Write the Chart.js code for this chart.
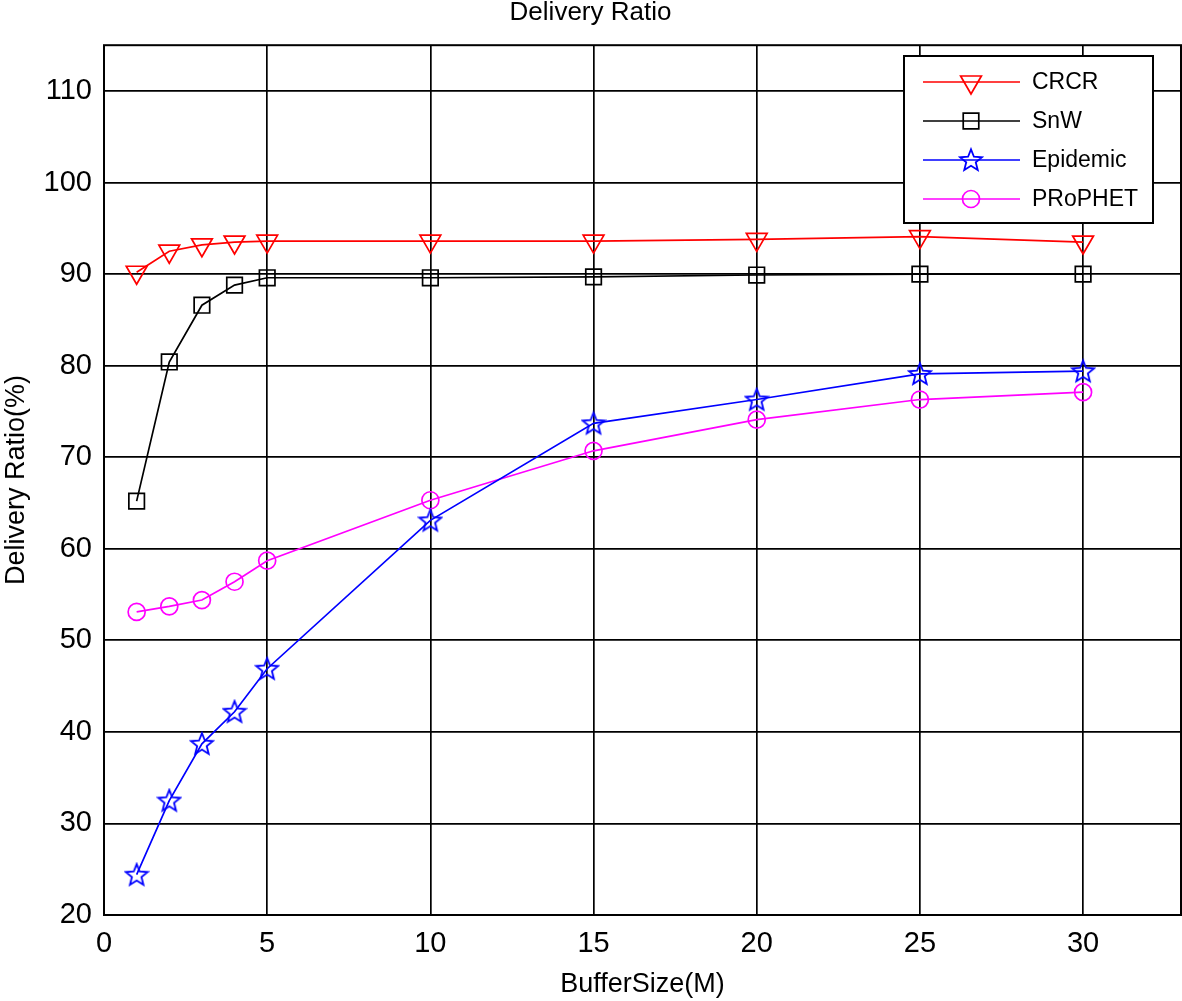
<!DOCTYPE html>
<html>
<head>
<meta charset="utf-8">
<script src="https://cdn.jsdelivr.net/npm/chart.js@4/dist/chart.umd.min.js"></script>
<style>
html,body{margin:0;padding:0;background:#fff;}
#wrap{width:1182px;height:1001px;}
</style>
</head>
<body>
<div id="wrap"><canvas id="c" width="1182" height="1001"></canvas></div>
<script>
const bufferSizes = [1, 2, 3, 4, 5, 10, 15, 20, 25, 30];
const crcr     = [90.2, 92.5, 93.2, 93.5, 93.6, 93.6, 93.6, 93.8, 94.1, 93.5];
const snw      = [65.2, 80.4, 86.6, 88.8, 89.6, 89.6, 89.7, 89.9, 90.0, 90.0];
const epidemic = [24.4, 32.5, 38.7, 42.2, 46.9, 63.1, 73.7, 76.3, 79.1, 79.4];
const prophet  = [53.1, 53.7, 54.4, 56.4, 58.7, 65.3, 70.7, 74.1, 76.3, 77.1];
const seriesNames = ['CRCR', 'SnW', 'Epidemic', 'PRoPHET'];
const xTickValues = [0, 5, 10, 15, 20, 25, 30];
const yTickValues = [20, 30, 40, 50, 60, 70, 80, 90, 100, 110];

function starImage(color){
  const s = 26, c = document.createElement('canvas');
  c.width = s; c.height = s;
  const g = c.getContext('2d');
  const R = 11.5, r = 5, cx = s/2, cy = s/2 + 0.8;
  g.beginPath();
  for (let i = 0; i < 10; i++) {
    const rad = (i % 2 === 0) ? R : r;
    const a = -Math.PI/2 + i * Math.PI/5;
    const px = cx + rad*Math.cos(a), py = cy + rad*Math.sin(a);
    if (i === 0) g.moveTo(px, py); else g.lineTo(px, py);
  }
  g.closePath();
  g.strokeStyle = color; g.lineWidth = 1.8; g.stroke();
  return c;
}
const star = starImage('#0000ff');

function pts(arr){ return bufferSizes.map((x,i)=>({x:x, y:arr[i]})); }

const datasets = [
  {label: seriesNames[0], data: pts(crcr), borderColor:'#ff0000', pointStyle:'triangle', rotation:180, pointRadius:12},
  {label: seriesNames[1], data: pts(snw), borderColor:'#000000', pointStyle:'rect', pointRadius:11, rotation:0},
  {label: seriesNames[2], data: pts(epidemic), borderColor:'#0000ff', pointStyle:star, pointRadius:10, rotation:0},
  {label: seriesNames[3], data: pts(prophet), borderColor:'#ff00ff', pointStyle:'circle', pointRadius:8.5, rotation:0}
].map(d => Object.assign(d, {
  backgroundColor:'rgba(0,0,0,0)', pointBackgroundColor:'rgba(0,0,0,0)',
  pointBorderColor:d.borderColor, borderWidth:1.7, pointBorderWidth:1.7,
  tension:0, fill:false, pointHoverRadius:d.pointRadius
}));

const FONT = '"Liberation Sans", Arial, sans-serif';

const frame = {
  id:'frame',
  afterDatasetsDraw(chart){
    const a = chart.chartArea, ctx = chart.ctx;
    ctx.save();
    ctx.strokeStyle = '#000'; ctx.lineWidth = 2;
    ctx.strokeRect(a.left, a.top, a.right - a.left, a.bottom - a.top);
    ctx.restore();
  }
};

const legendBox = {
  id:'legendBox',
  afterDraw(chart){
    const ctx = chart.ctx;
    const x0 = 904, y0 = 56, w = 249, h = 167;
    ctx.save();
    ctx.fillStyle = '#fff';
    ctx.fillRect(x0, y0, w, h);
    ctx.strokeStyle = '#000'; ctx.lineWidth = 2;
    ctx.strokeRect(x0, y0, w, h);
    const rows = [82, 121, 160, 199];
    chart.data.datasets.forEach((d, i) => {
      const y = rows[i];
      ctx.strokeStyle = d.borderColor; ctx.lineWidth = 1.7;
      ctx.beginPath(); ctx.moveTo(923, y); ctx.lineTo(1020, y); ctx.stroke();
      ctx.fillStyle = 'rgba(0,0,0,0)';
      Chart.helpers.drawPoint(ctx, {pointStyle:d.pointStyle, rotation:d.rotation||0, radius:d.pointRadius, borderWidth:1.7}, 971, y);
      ctx.fillStyle = '#000';
      ctx.font = '23px ' + FONT;
      ctx.textBaseline = 'middle'; ctx.textAlign = 'left';
      ctx.fillText(d.label, 1032, y + 1);
    });
    ctx.restore();
  }
};

new Chart(document.getElementById('c'), {
  type:'line',
  data:{datasets: datasets},
  plugins:[frame, legendBox],
  options:{
    responsive:false, animation:false, devicePixelRatio:1,
    layout:{autoPadding:false, padding:{top:0, right:1, left:0, bottom:0}},
    plugins:{
      legend:{display:false},
      tooltip:{enabled:false},
      title:{display:true, text:'Delivery Ratio', color:'#000',
             font:{family:FONT, size:26, weight:'normal'}, padding:{top:-3, bottom:17}}
    },
    scales:{
      x:{
        type:'linear', min:0, max:33,
        afterBuildTicks(s){ s.ticks = xTickValues.map(v=>({value:v})); },
        afterFit(s){ s.height = 86; s.paddingLeft = 0; s.paddingRight = 0; },
        ticks:{color:'#000', font:{family:FONT, size:29}, padding:12},
        grid:{color:'#000', lineWidth:1.7, drawTicks:false},
        border:{display:false},
        title:{display:true, text:'BufferSize(M)', color:'#000', font:{family:FONT, size:27}, padding:{top:0, bottom:0}}
      },
      y:{
        type:'linear', min:20, max:115,
        afterBuildTicks(s){ s.ticks = yTickValues.map(v=>({value:v})); },
        afterFit(s){ s.width = 104; s.paddingTop = 0; s.paddingBottom = 0; },
        ticks:{color:'#000', font:{family:FONT, size:29}, padding:12},
        grid:{color:'#000', lineWidth:1.7, drawTicks:false},
        border:{display:false},
        title:{display:true, text:'Delivery Ratio(%)', color:'#000', font:{family:FONT, size:27}, padding:{top:0, bottom:0}}
      }
    }
  }
});
</script>
</body>
</html>
